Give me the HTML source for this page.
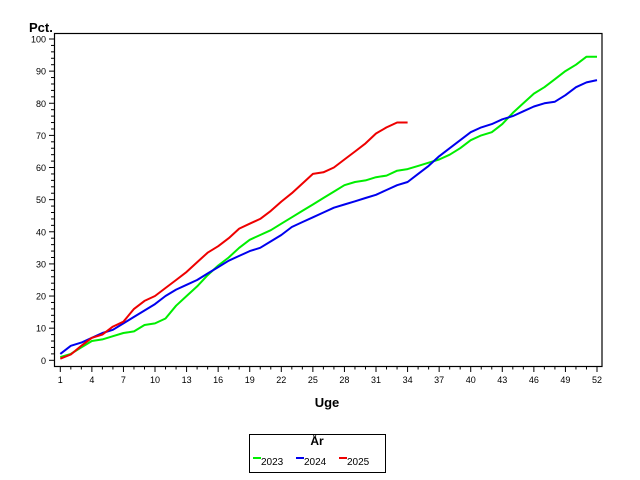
<!DOCTYPE html>
<html><head><meta charset="utf-8"><style>
body{margin:0;background:#fff;}
svg{display:block;font-family:"Liberation Sans","DejaVu Sans",sans-serif;}
</style></head><body>
<svg id="chart" width="640" height="480" xmlns="http://www.w3.org/2000/svg">
<rect width="640" height="480" fill="#fff"/>
<text x="29" y="32" font-size="13" font-weight="bold">Pct.</text>
<text x="327" y="407" font-size="13" font-weight="bold" text-anchor="middle">Uge</text>
<rect x="54.5" y="33.5" width="547.5" height="333" fill="none" stroke="#000" stroke-width="1.2"/>
<g id="yaxis"></g>
<g id="xaxis"></g>
<g id="series"></g>
<g>
<rect x="249.5" y="434.5" width="136" height="38" fill="#fff" stroke="#000"/>
<text x="317" y="445" font-size="12" font-weight="bold" text-anchor="middle">År</text>
<line x1="253" y1="458" x2="261" y2="458" stroke="#00ee00" stroke-width="2"/>
<text x="261" y="465" font-size="10">2023</text>
<line x1="296" y1="458" x2="304" y2="458" stroke="#0000ee" stroke-width="2"/>
<text x="304" y="465" font-size="10">2024</text>
<line x1="339" y1="458" x2="347" y2="458" stroke="#ee0000" stroke-width="2"/>
<text x="347" y="465" font-size="10">2025</text>
</g>
</svg>
<script>
const weeks = Array.from({length:52},(_,i)=>i+1);
const yTicks = [0,10,20,30,40,50,60,70,80,90,100];
const xTickLabels = [1,4,7,10,13,16,19,22,25,28,31,34,37,40,43,46,49,52];
const s2023 = [1,2,4,6,6.5,7.5,8.5,9,11,11.5,13,17,20,23,26.5,29.5,32,35,37.5,39,40.5,42.5,44.5,46.5,48.5,50.5,52.5,54.5,55.5,56,57,57.5,59,59.5,60.5,61.5,62.5,64,66,68.5,70,71,73.5,77,80,83,85,87.5,90,92,94.5,94.5];
const s2024 = [2,4.5,5.5,7,8.5,9.5,11.5,13.5,15.5,17.5,20,22,23.5,25,27,29,31,32.5,34,35,37,39,41.5,43,44.5,46,47.5,48.5,49.5,50.5,51.5,53,54.5,55.5,58,60.5,63.5,66,68.5,71,72.5,73.5,75,76,77.5,79,80,80.5,82.5,85,86.5,87.2];
const s2025 = [0.5,1.8,4.5,7,8,10.5,12,16,18.5,20,22.5,25,27.5,30.5,33.5,35.5,38,41,42.5,44,46.5,49.4,52,55,58,58.5,60,62.5,65,67.5,70.6,72.5,74,74];
const NS="http://www.w3.org/2000/svg";
function xs(w){return 60.3+(w-1)*(597-60.3)/51;}
function ys(v){return 360.3-v*3.213;}
function mk(tag,attrs,parent){const e=document.createElementNS(NS,tag);for(const k in attrs)e.setAttribute(k,attrs[k]);parent.appendChild(e);return e;}
const ya=document.getElementById('yaxis'), xa=document.getElementById('xaxis'), sg=document.getElementById('series');
for(let v=0;v<=100;v+=2){const big=v%10===0;const t=mk('line',{x1:big?49:51,x2:54.5,y1:ys(v),y2:ys(v),stroke:'#000'},ya);

}
yTicks.forEach(v=>{const t=mk('text',{x:46,y:ys(v)+3.5,'font-size':9,'text-anchor':'end'},ya);t.textContent=v;

});
weeks.forEach(w=>{const big=xTickLabels.includes(w);const t=mk('line',{x1:xs(w),x2:xs(w),y1:366.5,y2:big?372:369.5,stroke:'#000'},xa);

});
xTickLabels.forEach(w=>{const t=mk('text',{x:xs(w),y:383,'font-size':9,'text-anchor':'middle'},xa);t.textContent=w;

});
[[s2023,'#00ee00','line-2023'],[s2024,'#0000ee','line-2024'],[s2025,'#ee0000','line-2025']].forEach(([d,c,n])=>{
const p=mk('polyline',{points:d.map((v,i)=>xs(weeks[i]).toFixed(1)+','+ys(v).toFixed(1)).join(' '),fill:'none',stroke:c,'stroke-width':2,'stroke-linejoin':'round'},sg);

});
</script>
</body></html>
